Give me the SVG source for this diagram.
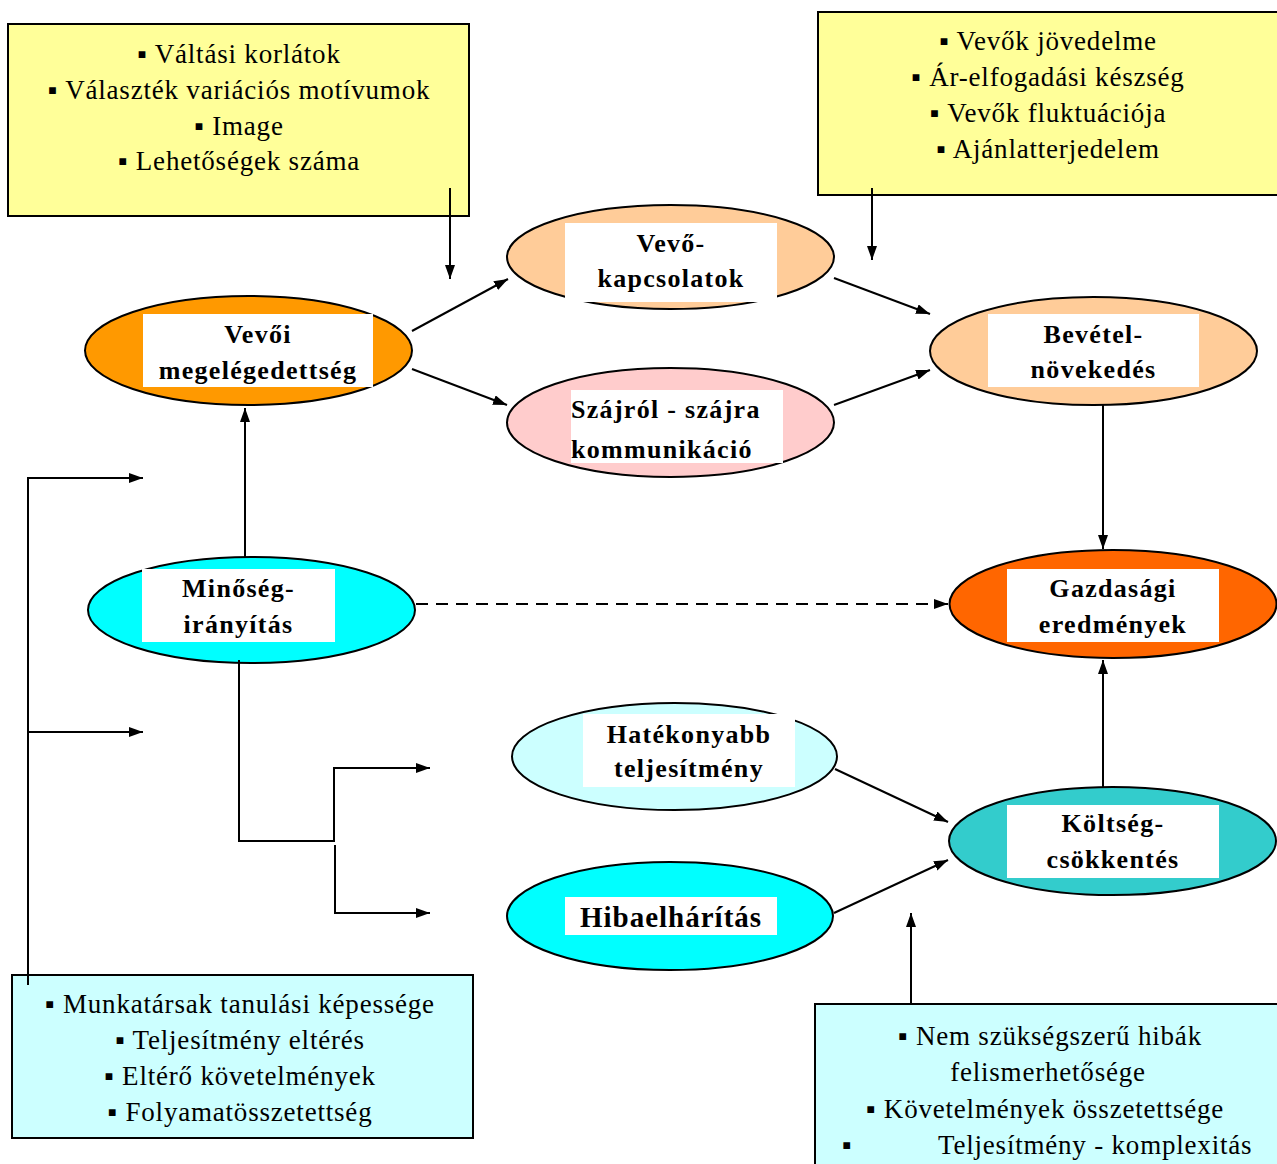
<svg xmlns="http://www.w3.org/2000/svg" width="1277" height="1164" viewBox="0 0 1277 1164">
<style>
.box-y{fill:#FFFF99;stroke:#000;stroke-width:2}
.box-c{fill:#CCFFFF;stroke:#000;stroke-width:2}
.ell{stroke:#000;stroke-width:2}
.lab{fill:#fff}
.t{font-family:"Liberation Serif","DejaVu Serif",serif;font-size:27px;letter-spacing:0.8px;fill:#000;text-anchor:middle}
.b{font-family:"Liberation Serif","DejaVu Serif",serif;font-size:26px;font-weight:bold;letter-spacing:1.3px;fill:#000;text-anchor:middle}
.ln{fill:none;stroke:#000;stroke-width:2}
</style>
<defs>
<marker id="ah" markerUnits="userSpaceOnUse" markerWidth="15" markerHeight="11" refX="14" refY="5" orient="auto">
<path d="M0,0 L14,5 L0,10 z" fill="#000"/>
</marker>
</defs>
<rect width="1277" height="1164" fill="#fff"/>

<g id="box-top-left">
<rect class="box-y" x="8" y="24" width="461" height="192"/>
<text class="t" x="239" y="63">▪ Váltási korlátok</text>
<text class="t" x="239" y="99">▪ Választék variációs motívumok</text>
<text class="t" x="239" y="135">▪ Image</text>
<text class="t" x="239" y="170">▪ Lehetőségek száma</text>
</g>

<g id="box-top-right">
<rect class="box-y" x="818" y="12" width="470" height="183"/>
<text class="t" x="1048" y="50">▪ Vevők jövedelme</text>
<text class="t" x="1048" y="86">▪ Ár-elfogadási készség</text>
<text class="t" x="1048" y="122">▪ Vevők fluktuációja</text>
<text class="t" x="1048" y="158">▪ Ajánlatterjedelem</text>
</g>

<g id="box-bottom-left">
<rect class="box-c" x="12" y="975" width="461" height="163"/>
<text class="t" x="240" y="1013">▪ Munkatársak tanulási képessége</text>
<text class="t" x="240" y="1049">▪ Teljesítmény eltérés</text>
<text class="t" x="240" y="1085">▪ Eltérő követelmények</text>
<text class="t" x="240" y="1121">▪ Folyamatösszetettség</text>
</g>

<g id="box-bottom-right">
<rect class="box-c" x="815" y="1004" width="480" height="200"/>
<text class="t" x="1050" y="1045">▪ Nem szükségszerű hibák</text>
<text class="t" x="1048" y="1081">felismerhetősége</text>
<text class="t" x="1045" y="1118">▪ Követelmények összetettsége</text>
<text class="t" x="842" y="1154" style="text-anchor:start">▪</text>
<text class="t" x="938" y="1154" style="text-anchor:start">Teljesítmény - komplexitás</text>
</g>

<g id="node-vevoi">
<ellipse class="ell" cx="248.5" cy="350.5" rx="163.5" ry="54.5" fill="#FF9900"/>
<rect class="lab" x="143" y="314" width="230" height="73"/>
<text class="b" x="258" y="343">Vevői</text>
<text class="b" x="258" y="379">megelégedettség</text>
</g>

<g id="node-vevokapcsolatok">
<ellipse class="ell" cx="670.5" cy="257" rx="163.5" ry="52" fill="#FFCC99"/>
<rect class="lab" x="565" y="223" width="212" height="79"/>
<text class="b" x="671" y="252">Vevő-</text>
<text class="b" x="671" y="287">kapcsolatok</text>
</g>

<g id="node-szajrol">
<ellipse class="ell" cx="670.5" cy="422.5" rx="163.5" ry="54.5" fill="#FFCCCC"/>
<rect class="lab" x="571" y="390" width="212" height="73"/>
<text class="b" x="571" y="418" style="text-anchor:start">Szájról - szájra</text>
<text class="b" x="571" y="458" style="text-anchor:start">kommunikáció</text>
</g>

<g id="node-bevetel">
<ellipse class="ell" cx="1093.5" cy="351" rx="163.5" ry="54" fill="#FFCC99"/>
<rect class="lab" x="988" y="314" width="211" height="73"/>
<text class="b" x="1093.5" y="343">Bevétel-</text>
<text class="b" x="1093.5" y="378">növekedés</text>
</g>

<g id="node-gazdasagi">
<ellipse class="ell" cx="1113" cy="604" rx="163.5" ry="54" fill="#FF6600"/>
<rect class="lab" x="1007" y="569" width="212" height="73"/>
<text class="b" x="1113" y="597">Gazdasági</text>
<text class="b" x="1113" y="633">eredmények</text>
</g>

<g id="node-minoseg">
<ellipse class="ell" cx="251.5" cy="610" rx="163.5" ry="53" fill="#00FFFF"/>
<rect class="lab" x="142" y="569" width="193" height="73"/>
<text class="b" x="238.5" y="597">Minőség-</text>
<text class="b" x="238.5" y="633">irányítás</text>
</g>

<g id="node-hatekonyabb">
<ellipse class="ell" cx="674.5" cy="756.5" rx="162.5" ry="53.5" fill="#CCFFFF"/>
<rect class="lab" x="583" y="714" width="212" height="73"/>
<text class="b" x="689" y="743">Hatékonyabb</text>
<text class="b" x="689" y="777">teljesítmény</text>
</g>

<g id="node-hibaelharitas">
<ellipse class="ell" cx="670" cy="916" rx="163" ry="54" fill="#00FFFF"/>
<rect class="lab" x="565" y="897" width="212" height="38"/>
<text class="b" x="671" y="927" style="font-size:29px;letter-spacing:1px">Hibaelhárítás</text>
</g>

<g id="node-koltseg">
<ellipse class="ell" cx="1112.5" cy="841" rx="163.5" ry="54" fill="#33CCCC"/>
<rect class="lab" x="1007" y="805" width="212" height="73"/>
<text class="b" x="1113" y="832">Költség-</text>
<text class="b" x="1113" y="868">csökkentés</text>
</g>

<g id="connectors">
<line class="ln" x1="450" y1="188" x2="450" y2="279" marker-end="url(#ah)"/>
<line class="ln" x1="872" y1="188" x2="872" y2="260" marker-end="url(#ah)"/>
<line class="ln" x1="412" y1="331" x2="508" y2="279" marker-end="url(#ah)"/>
<line class="ln" x1="412" y1="369" x2="507" y2="405" marker-end="url(#ah)"/>
<line class="ln" x1="834" y1="278" x2="930" y2="314" marker-end="url(#ah)"/>
<line class="ln" x1="834" y1="405" x2="930" y2="370" marker-end="url(#ah)"/>
<line class="ln" x1="1103" y1="405" x2="1103" y2="549" marker-end="url(#ah)"/>
<line class="ln" x1="245" y1="557" x2="245" y2="408" marker-end="url(#ah)"/>
<line class="ln" x1="416" y1="604" x2="948" y2="604" stroke-dasharray="12,8" marker-end="url(#ah)"/>
<line class="ln" x1="1103" y1="787" x2="1103" y2="660" marker-end="url(#ah)"/>
<line class="ln" x1="835" y1="769" x2="948" y2="822" marker-end="url(#ah)"/>
<line class="ln" x1="834" y1="913" x2="948" y2="860" marker-end="url(#ah)"/>
<line class="ln" x1="911" y1="1004" x2="911" y2="913" marker-end="url(#ah)"/>
<polyline class="ln" points="28,985 28,478 143,478" marker-end="url(#ah)"/>
<line class="ln" x1="28" y1="732" x2="143" y2="732" marker-end="url(#ah)"/>
<polyline class="ln" points="239,660 239,841 334,841 334,768 430,768" marker-end="url(#ah)"/>
<polyline class="ln" points="335,845 335,913 430,913" marker-end="url(#ah)"/>
</g>
</svg>
